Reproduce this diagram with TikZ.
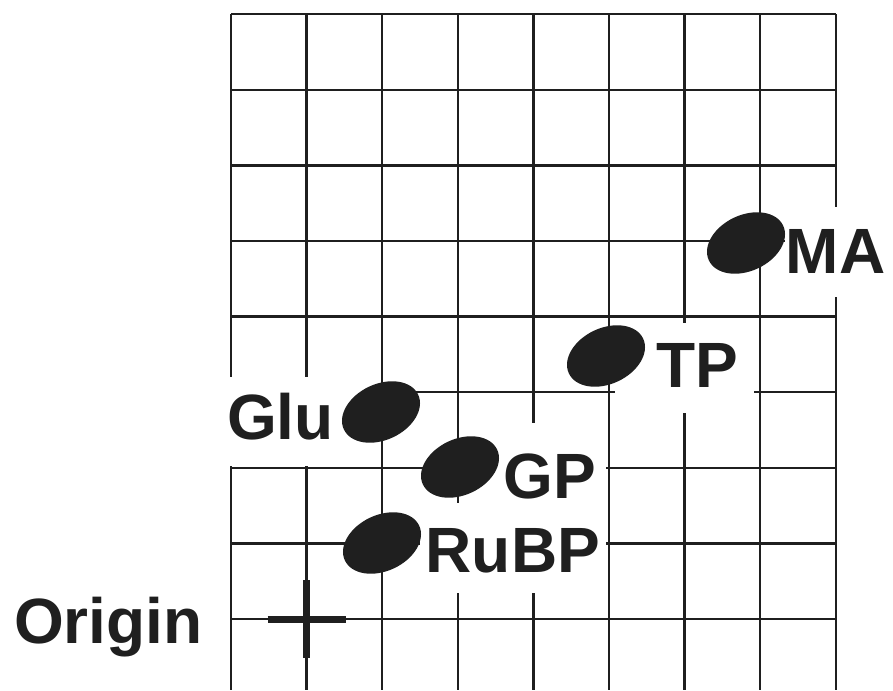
\documentclass[tikz,border=0pt]{standalone}
\usepackage{fontspec}
\setmainfont{Liberation Sans}
\usetikzlibrary{shapes.geometric}
\begin{document}
\begin{tikzpicture}[x=1pt,y=-1pt,
  gridline/.style={line width=2.4pt, draw=black!88},
  spot/.style={ellipse, fill=black!88, draw=none, minimum width=82pt, minimum height=56pt, inner sep=0pt, rotate=25},
  lab/.style={anchor=base west, inner sep=0pt, text=black!88, font=\bfseries\fontsize{64}{64}\selectfont},
  crossline/.style={line width=7pt, draw=black!88}
]
\useasboundingbox (0,0) rectangle (893,690);
% grid
\foreach \i in {0,...,8} {
  \draw[gridline] (231+75.6*\i,14.2) -- (231+75.6*\i,690);
  \draw[gridline] (231,14.2+75.6*\i) -- (835.8,14.2+75.6*\i);
}
% white label backgrounds
\fill[white] (215,377) rectangle (363,466);
\fill[white] (495,423) rectangle (606,503);
\fill[white] (420,503) rectangle (606,593);
\fill[white] (615,323) rectangle (754,413);
\fill[white] (785,207) rectangle (893,297);
% spots
\node[spot] (sglu) at (381,412) {};
\node[spot] (sgp) at (460,467) {};
\node[spot] (srubp) at (382,543) {};
\node[spot] (stp) at (606,356) {};
\node[spot] (sma) at (746,243) {};
% labels
\node[lab] (lglu) at (227,439) {Glu};
\node[lab] (lgp) at (503,498) {GP};
\node[lab] (lrubp) at (425.5,572) {RuBP};
\node[lab] (ltp) at (656,387) {TP};
\node[lab] (lma) at (785.5,273) {MA};
\node[lab] (lorigin) at (14,643) {Origin};
% origin cross
\coordinate (origin) at (306.6,619);
\draw[crossline] ([xshift=-39pt]origin) -- ([xshift=39pt]origin);
\draw[crossline] ([yshift=39pt]origin) -- ([yshift=-39pt]origin);
\end{tikzpicture}
\end{document}
